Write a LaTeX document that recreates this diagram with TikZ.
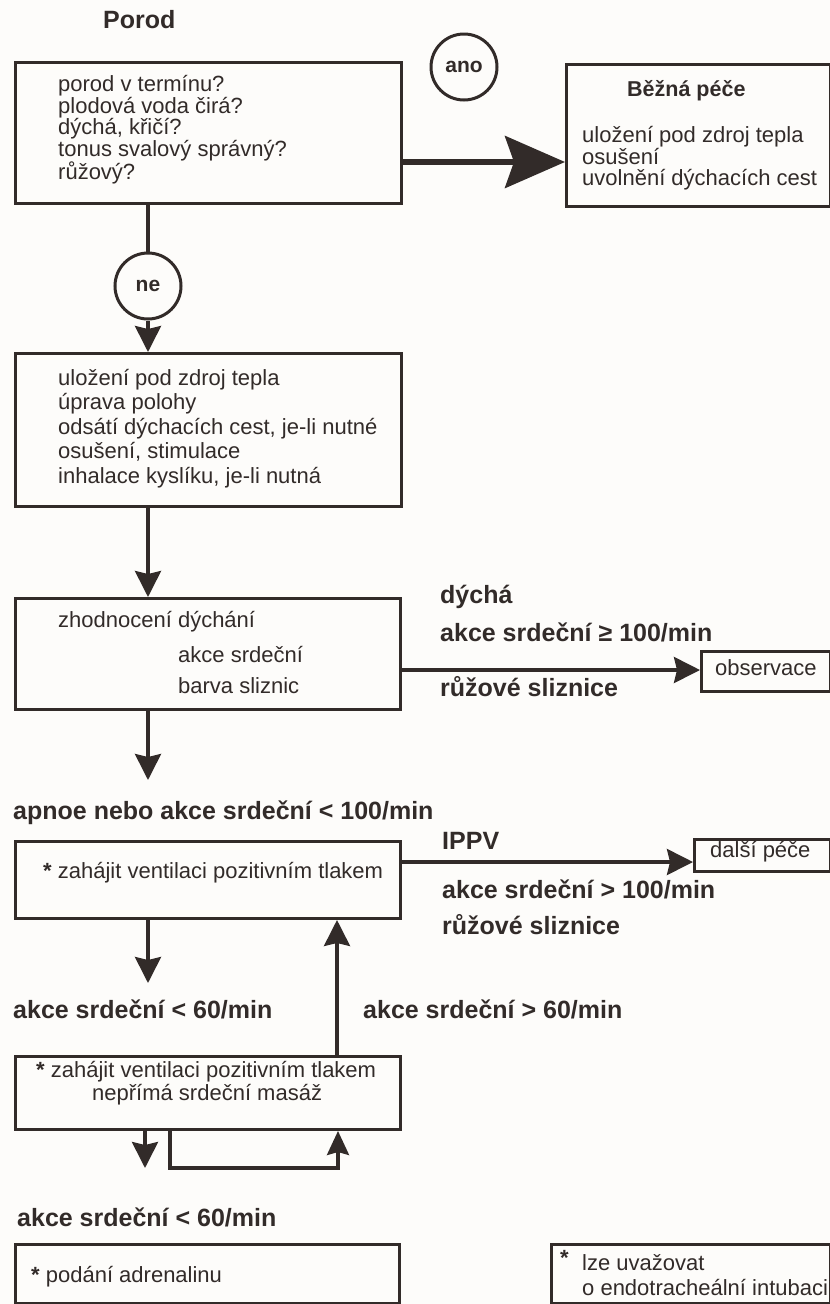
\documentclass[tikz,border=0pt]{standalone}
\usepackage{fontspec}
\setmainfont{Liberation Sans}
\usetikzlibrary{arrows.meta,calc}
\definecolor{ink}{RGB}{50,43,41}
\definecolor{paper}{RGB}{253,252,250}
\begin{document}
\begin{tikzpicture}[x=1pt,y=-1pt,
  box/.style={draw=ink, line width=3pt, anchor=north west, inner sep=0pt},
  txt/.style={font=\fontsize{22}{21.7}\selectfont, text=ink, align=left, inner sep=0pt, anchor=north west},
  tx/.style={font=\fontsize{22}{24}\selectfont, text=ink, inner sep=0pt, anchor=west, text height=16pt, text depth=5pt},
  lbl/.style={font=\bfseries\fontsize{25}{28}\selectfont, text=ink, inner sep=0pt, anchor=west, text height=18pt, text depth=5pt},
  ttl/.style={font=\bfseries\fontsize{21.5}{24}\selectfont, text=ink, inner sep=0pt, anchor=west, text height=16pt, text depth=5pt},
  conn/.style={draw=ink, line width=3.2pt},
  arr/.style={conn, -{Stealth[length=26pt,width=26pt,inset=3pt]}},
  bigarr/.style={draw=ink, line width=5.5pt, -{Stealth[length=60pt,width=52pt,inset=9pt]}},
  circ/.style={circle, draw=ink, line width=3pt, minimum size=66pt, inner sep=0pt, font=\bfseries\fontsize{21}{24}\selectfont, text=ink}
]
\fill[paper] (0,0) rectangle (830,1304);
\useasboundingbox (0,0) rectangle (830,1304);

% helper coordinates
\coordinate (cx) at (148,0);
\coordinate (ya) at (0,162);
\coordinate (yo) at (0,670);
\coordinate (yd) at (0,862);
\coordinate (ux) at (337,0);
\coordinate (dx) at (145,0);
\coordinate (e3) at (148,780);
\coordinate (e4) at (148,983);
\coordinate (e5) at (145,1168);
\coordinate (l1) at (170,1168);
\coordinate (l2) at (338,1168);

% title
\node[lbl] (porod) at (103,22) {Porod};

% boxes
\node[box, minimum width=386pt, minimum height=141pt] (b1) at (14,61) {};
\node[box, minimum width=264pt, minimum height=142pt] (bp) at (565,63) {};
\node[box, minimum width=386pt, minimum height=153pt] (b2) at (14,352) {};
\node[box, minimum width=385pt, minimum height=111pt] (b3) at (14,597) {};
\node[box, minimum width=129pt, minimum height=40pt] (obs) at (700,650) {};
\node[box, minimum width=385pt, minimum height=77pt] (b4) at (14,840) {};
\node[box, minimum width=136pt, minimum height=32pt] (dal) at (693,838) {};
\node[box, minimum width=385pt, minimum height=73pt] (b5) at (14,1055) {};
\node[box, minimum width=384pt, minimum height=59pt] (b6) at (14,1243) {};
\node[box, minimum width=279pt, minimum height=59pt] (b7) at (550,1243) {};

% circles
\node[circ] (ano) at (464,67) {ano};
\node[circ] (ne) at (148,286) {ne};

% box texts
\node[txt] (t1) at (58,75) {porod v termínu?\\plodová voda čirá?\\dýchá, křičí?\\tonus svalový správný?\\růžový?};
\node[ttl] (tbp) at (627,91) {Běžná péče};
\node[txt] (tbp2) at (582,126) {uložení pod zdroj tepla\\osušení\\uvolnění dýchacích cest};
\node[txt, font=\fontsize{22}{24.4}\selectfont] (t2) at (58,369) {uložení pod zdroj tepla\\úprava polohy\\odsátí dýchacích cest, je-li nutné\\osušení, stimulace\\inhalace kyslíku, je-li nutná};
\node[tx] (t3a) at (58,622) {zhodnocení dýchání};
\node[tx] (t3b) at (178,657) {akce srdeční};
\node[tx] (t3c) at (178,688) {barva sliznic};
\node[tx] (tobs) at (715,670) {observace};
\node[tx] (t4) at (43,873) {\textbf{*} zahájit ventilaci pozitivním tlakem};
\node[tx] (tdal) at (710,852) {další péče};
\node[tx] (t5a) at (36,1072) {\textbf{*} zahájit ventilaci pozitivním tlakem};
\node[tx] (t5b) at (92,1095) {nepřímá srdeční masáž};
\node[tx] (t6) at (31,1277) {\textbf{*} podání adrenalinu};
\node[tx] (a7) at (560,1260) {\textbf{*}};
\node[tx] (t7a) at (582,1265) {lze uvažovat};
\node[tx] (t7b) at (582,1290) {o endotracheální intubaci};

% labels
\node[lbl] (l_dy) at (440,597) {dýchá};
\node[lbl] (l_ak1) at (440,635) {akce srdeční ≥ 100/min};
\node[lbl] (l_ru1) at (440,690) {růžové sliznice};
\node[lbl] (l_ap) at (13,813) {apnoe nebo akce srdeční < 100/min};
\node[lbl] (l_ip) at (442,843) {IPPV};
\node[lbl] (l_ak2) at (442,892) {akce srdeční > 100/min};
\node[lbl] (l_ru2) at (442,928) {růžové sliznice};
\node[lbl] (l_lt60) at (13,1012) {akce srdeční < 60/min};
\node[lbl] (l_gt60) at (363,1012) {akce srdeční > 60/min};
\node[lbl] (l_lt60b) at (17,1220) {akce srdeční < 60/min};

% connectors
\draw[conn] (b1.south -| cx) -- (ne.north);
\draw[arr] (ne.south) -- (b2.north -| cx);
\draw[bigarr] (b1.east |- ya) -- (bp.west |- ya);
\draw[arr] (b2.south -| cx) -- (b3.north -| cx);
\draw[arr] (b3.east |- yo) -- (obs.west |- yo);
\draw[arr] (b3.south -| cx) -- (e3);
\draw[arr] (b4.east |- yd) -- (dal.west |- yd);
\draw[arr] (b4.south -| cx) -- (e4);
\draw[arr] (b5.north -| ux) -- (b4.south -| ux);
\draw[arr] (b5.south -| dx) -- (e5);
\draw[conn, -{Stealth[length=24pt,width=22pt,inset=3pt]}] (b5.south -| l1) -- (l1) -- (l2) -- (b5.south -| l2);
\end{tikzpicture}
\end{document}
